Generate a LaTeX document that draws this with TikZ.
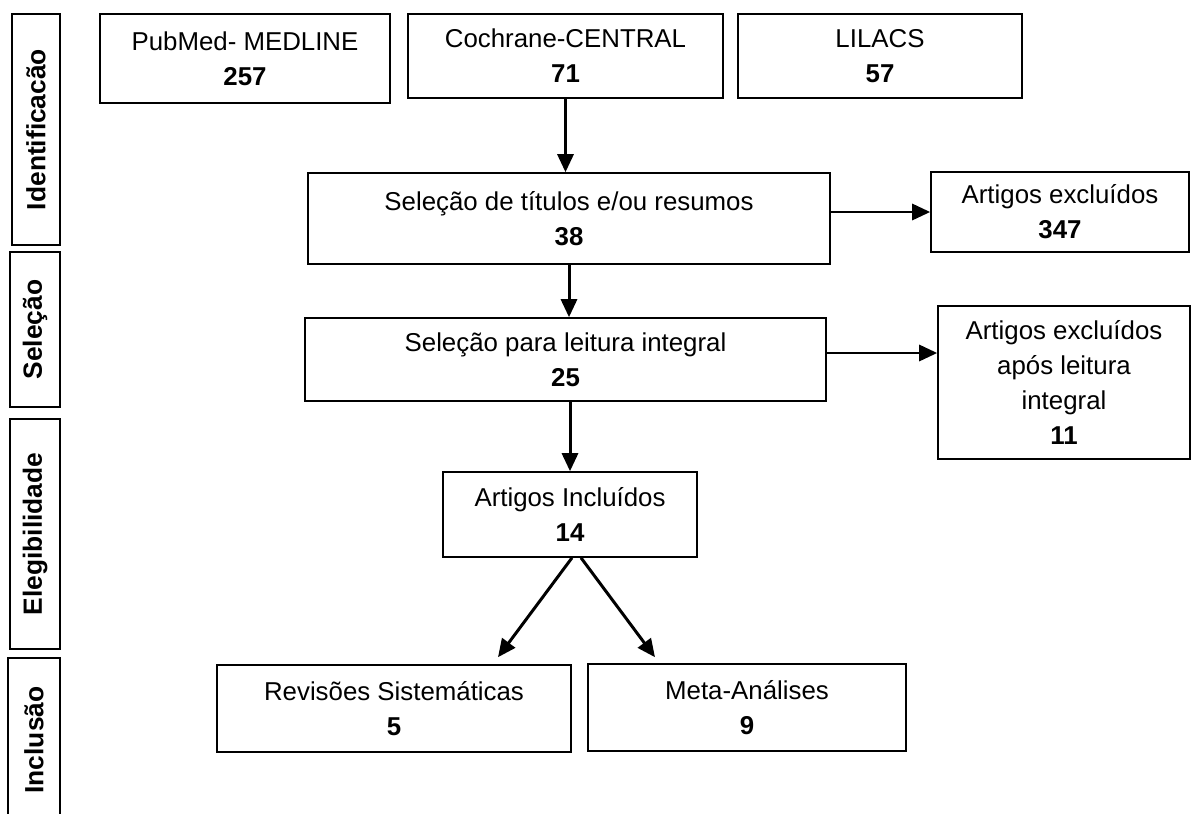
\documentclass[tikz,border=0pt]{standalone}
\usepackage{fontspec}
\setmainfont{Liberation Sans}
\usepackage{tikz}
\usetikzlibrary{arrows.meta, calc}

\begin{document}
\begin{tikzpicture}[box/.style={draw,line width=.9pt,align=center,inner sep=0pt,font=\fontsize{14.7}{20}\selectfont},
    stage/.style={draw,line width=.9pt,rotate=90,inner sep=0pt,font=\bfseries\fontsize{15}{18}\selectfont},
    arw/.style={line width=1.7pt,-{Triangle[length=0.36cm,width=0.32cm]}}]
    \useasboundingbox (0,0) rectangle (23.84,-16.28);
    \clip (0,0) rectangle (23.84,-16.28);

    %%%% etapas
    \node (lid) at (0.72,-2.59) [stage,minimum width=4.62cm,minimum height=0.96cm] {Identificacão}; %
    \node (lsel) at (0.70,-6.59) [stage,minimum width=3.10cm,minimum height=1.00cm] {Seleção}; %
    \node (leleg) at (0.70,-10.68) [stage,minimum width=4.60cm,minimum height=1.00cm] {Elegibilidade}; %
    \node (lincl) at (0.68,-14.80) [stage,minimum width=3.28cm,minimum height=1.04cm] {Inclusão}; %

    %%%% caixas
    \node (pub) at (4.90,-1.17) [box,minimum width=5.80cm,minimum height=1.78cm] {PubMed- MEDLINE\\\textbf{257}}; %
    \node (coch) at (11.31,-1.12) [box,minimum width=6.30cm,minimum height=1.68cm] {Cochrane-CENTRAL\\\textbf{71}}; %
    \node (lil) at (17.60,-1.12) [box,minimum width=5.68cm,minimum height=1.68cm] {LILACS\\\textbf{57}}; %
    \node (tit) at (11.38,-4.37) [box,minimum width=10.44cm,minimum height=1.82cm] {Seleção de títulos e/ou resumos\\\textbf{38}}; %
    \node (exc1) at (21.20,-4.24) [box,minimum width=5.16cm,minimum height=1.60cm] {Artigos excluídos\\\textbf{347}}; %
    \node (int) at (11.31,-7.19) [box,minimum width=10.42cm,minimum height=1.66cm] {Seleção para leitura integral\\\textbf{25}}; %
    \node (exc2) at (21.28,-7.65) [box,minimum width=5.04cm,minimum height=3.06cm] {Artigos excluídos\\após leitura\\integral\\\textbf{11}}; %
    \node (inc) at (11.40,-10.29) [box,minimum width=5.08cm,minimum height=1.70cm] {Artigos Incluídos\\\textbf{14}}; %
    \node (rev) at (7.88,-14.17) [box,minimum width=7.08cm,minimum height=1.74cm] {Revisões Sistemáticas\\\textbf{5}}; %
    \node (meta) at (14.94,-14.15) [box,minimum width=6.36cm,minimum height=1.74cm] {Meta-Análises\\\textbf{9}}; %

    %%%% setas
    \draw [arw] (coch.south) -- (coch.south |- tit.north); %
    \draw [arw] (exc1.west -| tit.east) -- (exc1.west); %
    \draw [arw] (tit.south) -- (tit.south |- int.north); %
    \draw [arw] ($(int.east)+(0,0.13)$) -- ($(int.east -| exc2.west)+(0,0.13)$); %
    \draw [arw] (inc.north |- int.south) -- (inc.north); %
    \draw [arw] ($(inc.south)+(0.04,0)$) -- ($(rev.north)+(2.08,0.14)$); %
    \draw [arw] ($(inc.south)+(0.22,0)$) -- ($(meta.north)+(-1.84,0.12)$); %
\end{tikzpicture}
\end{document}
